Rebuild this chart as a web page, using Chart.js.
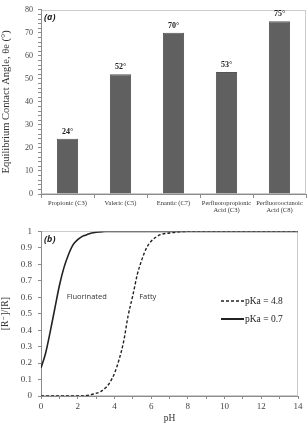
<!DOCTYPE html>
<html>
<head>
<meta charset="utf-8">
<script src="https://cdn.jsdelivr.net/npm/chart.js@4/dist/chart.umd.min.js"></script>
<style>
  html, body { margin: 0; padding: 0; background: #fff; }
  #wrap { position: relative; width: 308px; height: 426px; overflow: hidden; }
  canvas { position: absolute; left: 0; }
  #angleChart { top: 0; }
  #fractionChart { top: 220px; }
</style>
</head>
<body>
<div id="wrap">
  <canvas id="angleChart" width="308" height="220"></canvas>
  <canvas id="fractionChart" width="308" height="206"></canvas>
</div>
<script>
/* ================================
   Data - panel (a)
================================ */
const acidLabels = [
  ["Propionic (C3)"],
  ["Valeric (C5)"],
  ["Enantic (C7)"],
  ["Perfluoropropionic", "Acid (C3)"],
  ["Perfluorooctanoic", "Acid (C8)"]
];
const contactAngles = [24, 52, 70, 53, 75];

/* ================================
   Data - panel (b)
================================ */
const phValues = [0, 0.25, 0.5, 0.75, 1, 1.25, 1.5, 1.75, 2, 2.25, 2.5, 2.75, 3, 3.25, 3.5, 3.75,
  4, 4.25, 4.5, 4.75, 5, 5.25, 5.5, 5.75, 6, 6.5, 7, 7.5, 8, 9, 10, 11, 12, 13, 14];
// pKa = 4.8 (fatty)
const fattyFraction = [0, 0, 0, 0, 0, 0, 0, 0, 0, 0, 0.003, 0.009, 0.016, 0.027, 0.048, 0.082,
  0.137, 0.22, 0.33, 0.49, 0.61, 0.74, 0.83, 0.90, 0.94, 0.98, 0.99, 0.997, 1, 1, 1, 1, 1, 1, 1];
// pKa = 0.7 (fluorinated)
const fluoroFraction = [0.17, 0.26, 0.39, 0.53, 0.67, 0.78, 0.86, 0.92, 0.95, 0.97, 0.98, 0.99, 0.995, 0.997,
  0.999, 1, 1, 1, 1, 1, 1, 1, 1, 1, 1, 1, 1, 1, 1, 1, 1, 1, 1, 1, 1];

const legendItems = ["pKa = 4.8", "pKa = 0.7"];
const curveNotes = ["Fluorinated", "Fatty"];

/* ================================
   Shared helpers
================================ */
const SERIF = "'Liberation Serif', 'DejaVu Serif', serif";
const SANS = "'Open Sans', 'Liberation Sans', sans-serif";
const AXIS_GREY = "#8c8c8c";

const frameBox = {
  id: "frameBox",
  beforeDraw(chart) {
    const { ctx, chartArea: a } = chart;
    ctx.save();
    ctx.strokeStyle = "#cccccc";
    ctx.lineWidth = 1;
    ctx.strokeRect(Math.round(a.left) + 0.5, Math.round(a.top) + 0.5,
      Math.round(a.width) - 1, Math.round(a.height) - 1);
    ctx.restore();
  }
};

function panelTag(text) {
  return {
    id: "panelTag",
    afterDraw(chart) {
      const { ctx, chartArea: a } = chart;
      ctx.save();
      ctx.font = "italic bold 9px " + SANS;
      ctx.fillStyle = "#222";
      ctx.textBaseline = "middle";
      ctx.fillText(text, a.left + 3, a.top + 8);
      ctx.restore();
    }
  };
}

/* ================================
   Panel (a) - bar chart
================================ */
const barLabels = {
  id: "barLabels",
  afterDatasetsDraw(chart) {
    const { ctx } = chart;
    const meta = chart.getDatasetMeta(0);
    ctx.save();
    ctx.font = "bold 8px " + SERIF;
    ctx.fillStyle = "#222";
    ctx.textAlign = "center";
    ctx.textBaseline = "bottom";
    meta.data.forEach((bar, i) => {
      ctx.fillText(contactAngles[i] + "°", bar.x, bar.y - 3);
    });
    ctx.restore();
  }
};

new Chart(document.getElementById("angleChart"), {
  type: "bar",
  data: {
    labels: acidLabels,
    datasets: [{
      data: contactAngles,
      backgroundColor: "#606060",
      borderColor: "#555555",
      borderWidth: 1,
      categoryPercentage: 1,
      barPercentage: 0.4
    }]
  },
  options: {
    responsive: false,
    animation: false,
    layout: { padding: { top: 9, right: 2, left: 0, bottom: 0 } },
    plugins: { legend: { display: false }, tooltip: { enabled: false } },
    scales: {
      x: {
        afterFit: s => { s.height = 26; },
        border: { color: AXIS_GREY },
        grid: { drawOnChartArea: false, offset: true, tickLength: 4, color: AXIS_GREY },
        ticks: { font: { family: SERIF, size: 6.5 }, color: "#333", maxRotation: 0, padding: 1, autoSkip: false }
      },
      y: {
        min: 0, max: 80,
        afterFit: s => { s.width = 41; },
        border: { color: AXIS_GREY },
        grid: { drawOnChartArea: false, tickLength: 3, color: AXIS_GREY },
        ticks: {
          stepSize: 2, autoSkip: false, padding: 5,
          font: { family: SERIF, size: 8 }, color: "#444",
          callback: v => (v % 10 === 0 ? v : "")
        },
        title: {
          display: true,
          text: "Equilibrium Contact Angle, θe (°)",
          font: { family: SERIF, size: 10.5 }, color: "#333", padding: { top: 0, bottom: 1 }
        }
      }
    }
  },
  plugins: [frameBox, barLabels, panelTag("(a)")]
});

/* ================================
   Panel (b) - line chart
================================ */
const curveDecor = {
  id: "curveDecor",
  afterDraw(chart) {
    const { ctx, scales: { x, y } } = chart;
    ctx.save();
    // curve notes
    ctx.font = "7.5px " + SANS;
    ctx.fillStyle = "#333";
    ctx.textBaseline = "middle";
    ctx.fillText(curveNotes[0], x.getPixelForValue(1.4), y.getPixelForValue(0.6));
    ctx.fillText(curveNotes[1], x.getPixelForValue(5.35), y.getPixelForValue(0.6));
    // legend
    const lx = 221, ly = [81, 99];
    ctx.font = "9.5px " + SERIF;
    ctx.fillStyle = "#222";
    legendItems.forEach((label, i) => {
      ctx.beginPath();
      ctx.strokeStyle = "#222";
      ctx.lineWidth = i === 0 ? 1.4 : 2;
      ctx.setLineDash(i === 0 ? [3, 2] : []);
      ctx.moveTo(lx, ly[i]);
      ctx.lineTo(lx + 23, ly[i]);
      ctx.stroke();
      ctx.setLineDash([]);
      ctx.fillText(label, lx + 24, ly[i]);
    });
    ctx.restore();
  }
};

new Chart(document.getElementById("fractionChart"), {
  type: "line",
  data: {
    labels: phValues,
    datasets: [
      {
        label: legendItems[0],
        data: phValues.map((p, i) => ({ x: p, y: fattyFraction[i] })),
        borderColor: "#222",
        borderWidth: 1.4,
        borderDash: [3, 2],
        pointRadius: 0,
        cubicInterpolationMode: "monotone",
        fill: false
      },
      {
        label: legendItems[1],
        data: phValues.map((p, i) => ({ x: p, y: fluoroFraction[i] })),
        borderColor: "#222",
        borderWidth: 1.6,
        pointRadius: 0,
        cubicInterpolationMode: "monotone",
        fill: false
      }
    ]
  },
  options: {
    responsive: false,
    animation: false,
    layout: { padding: { top: 8, right: 10, left: 0, bottom: 0 } },
    plugins: { legend: { display: false }, tooltip: { enabled: false } },
    scales: {
      x: {
        type: "linear", min: 0, max: 14,
        afterFit: s => { s.height = 30; },
        border: { color: AXIS_GREY },
        grid: { drawOnChartArea: false, tickLength: 3, color: AXIS_GREY },
        ticks: {
          stepSize: 1, autoSkip: false, maxRotation: 0, padding: 2,
          font: { family: SERIF, size: 9 }, color: "#444",
          callback: v => (v % 2 === 0 ? v : "")
        },
        title: {
          display: true, text: "pH",
          font: { family: SERIF, size: 9.5 }, color: "#333", padding: { top: 0, bottom: 2 }
        }
      },
      y: {
        min: 0, max: 1,
        afterFit: s => { s.width = 41; },
        border: { color: AXIS_GREY },
        grid: { drawOnChartArea: false, tickLength: 3, color: AXIS_GREY },
        ticks: {
          stepSize: 0.1, autoSkip: false, padding: 6,
          font: { family: SERIF, size: 9 }, color: "#444",
          callback: v => Number(v.toFixed(1))
        },
        title: {
          display: true, text: "[R⁻]/[R]",
          font: { family: SERIF, size: 9.5 }, color: "#333", padding: { top: 0, bottom: 2 }
        }
      }
    }
  },
  plugins: [frameBox, curveDecor, panelTag("(b)")]
});
</script>
</body>
</html>
